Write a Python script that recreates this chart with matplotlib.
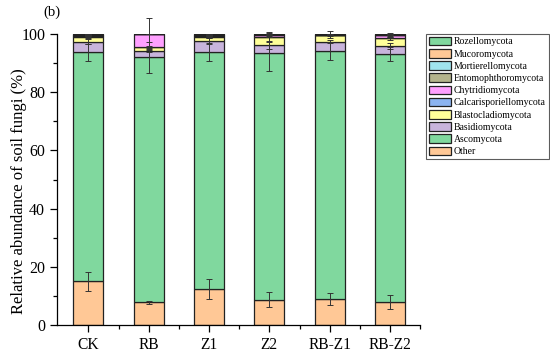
import numpy as np
import matplotlib
matplotlib.use('Agg')
import matplotlib.pyplot as plt
from matplotlib.ticker import MultipleLocator

plt.rcParams['font.family'] = ['Liberation Serif', 'DejaVu Serif']

groups = ['CK', 'RB', 'Z1', 'Z2', 'RB-Z1', 'RB-Z2']

# stacked from bottom to top
phyla = ['Other', 'Ascomycota', 'Basidiomycota', 'Blastocladiomycota',
         'Calcarisporiellomycota', 'Chytridiomycota', 'Entomophthoromycota',
         'Mortierellomycota', 'Mucoromycota', 'Rozellomycota']

other = [15.0, 7.8, 12.3, 8.7, 8.9, 7.8]
ascomycota = [78.7, 84.2, 81.4, 84.7, 85.3, 85.3]
basidiomycota = [3.7, 2.2, 4.0, 2.8, 3.2, 2.9]
blastocladiomycota = [1.7, 1.3, 1.4, 2.7, 2.1, 2.6]
calcarisporiellomycota = [0.1, 0.0, 0.1, 0.0, 0.0, 0.1]
chytridiomycota = [0.2, 4.4, 0.2, 0.9, 0.1, 1.0]
entomophthoromycota = [0.1, 0.0, 0.1, 0.0, 0.0, 0.0]
mortierellomycota = [0.2, 0.0, 0.2, 0.1, 0.1, 0.1]
mucoromycota = [0.2, 0.1, 0.2, 0.1, 0.2, 0.1]
rozellomycota = [0.1, 0.0, 0.1, 0.0, 0.1, 0.1]

other_err = [3.2, 0.5, 3.4, 2.5, 2.0, 2.4]
ascomycota_err = [3.0, 5.4, 3.1, 6.0, 3.2, 2.4]
basidiomycota_err = [1.0, 0.5, 1.0, 1.5, 0.5, 1.0]
blastocladiomycota_err = [0.5, 0.3, 0.5, 1.5, 0.3, 0.5]
calcarisporiellomycota_err = [0.1, 0.0, 0.1, 0.0, 0.0, 0.1]
chytridiomycota_err = [0.2, 5.5, 0.2, 0.8, 0.1, 0.5]
entomophthoromycota_err = [0.1, 0.0, 0.1, 0.0, 0.0, 0.0]
mortierellomycota_err = [0.1, 0.0, 0.1, 0.1, 0.1, 0.1]
mucoromycota_err = [0.2, 0.1, 0.2, 0.1, 1.3, 0.1]
rozellomycota_err = [0.1, 0.0, 0.1, 0.1, 0.1, 0.1]

values = [other, ascomycota, basidiomycota, blastocladiomycota,
          calcarisporiellomycota, chytridiomycota, entomophthoromycota,
          mortierellomycota, mucoromycota, rozellomycota]
errors = [other_err, ascomycota_err, basidiomycota_err, blastocladiomycota_err,
          calcarisporiellomycota_err, chytridiomycota_err, entomophthoromycota_err,
          mortierellomycota_err, mucoromycota_err, rozellomycota_err]
colors = ['#FFC896', '#80D89E', '#C8B4DC', '#FFFF99', '#8CB4F0',
          '#FFA0FF', '#B4B48C', '#A0E4EE', '#FFC896', '#80D89E']

fig = plt.figure(figsize=(5.5, 3.52), dpi=100)
ax = fig.add_axes([0.1036, 0.0767, 0.6604, 0.8267])

x = np.arange(len(groups))
bottom = np.zeros(len(groups))
handles = []
for name, vals, errs, col in zip(phyla, values, errors, colors):
    vals = np.array(vals)
    h = ax.bar(x, vals, width=0.5, bottom=bottom, color=col,
               edgecolor='#222222', linewidth=0.9, label=name)
    handles.append(h)
    bottom = bottom + vals
    ax.errorbar(x, bottom, yerr=errs, fmt='none', ecolor='#333333',
                elinewidth=0.7, capsize=2.5, capthick=0.7, clip_on=False)

ax.set_xlim(-0.52, 5.5)
ax.set_ylim(0, 100)
ax.set_xticks(x)
ax.set_xticklabels(groups, fontsize=11.2)
ax.set_xticks(x + 0.5, minor=True)
ax.yaxis.set_major_locator(MultipleLocator(20))
ax.yaxis.set_minor_locator(MultipleLocator(10))
ax.tick_params(axis='y', labelsize=11.5)
ax.tick_params(which='major', direction='out', length=5, width=0.9)
ax.tick_params(which='minor', direction='out', length=3, width=0.9)
for s in ['top', 'right']:
    ax.spines[s].set_visible(False)
for s in ['left', 'bottom']:
    ax.spines[s].set_linewidth(0.9)
ax.set_ylabel('Relative abundance of soil fungi (%)', fontsize=12)
ax.yaxis.set_label_coords(-0.083, 0.46)

fig.text(0.078, 0.965, '(b)', fontsize=10.5, ha='left', va='center')

leg = fig.legend(handles[::-1], phyla[::-1], loc='upper left',
                 bbox_to_anchor=(0.774, 0.904), fontsize=7,
                 frameon=True, fancybox=False, edgecolor='#333333',
                 handlelength=2.3, handleheight=1.0, handletextpad=0.3,
                 labelspacing=0.26, borderpad=0.3, borderaxespad=0)
leg.get_frame().set_linewidth(0.8)

fig.savefig('out.png', dpi=100)
